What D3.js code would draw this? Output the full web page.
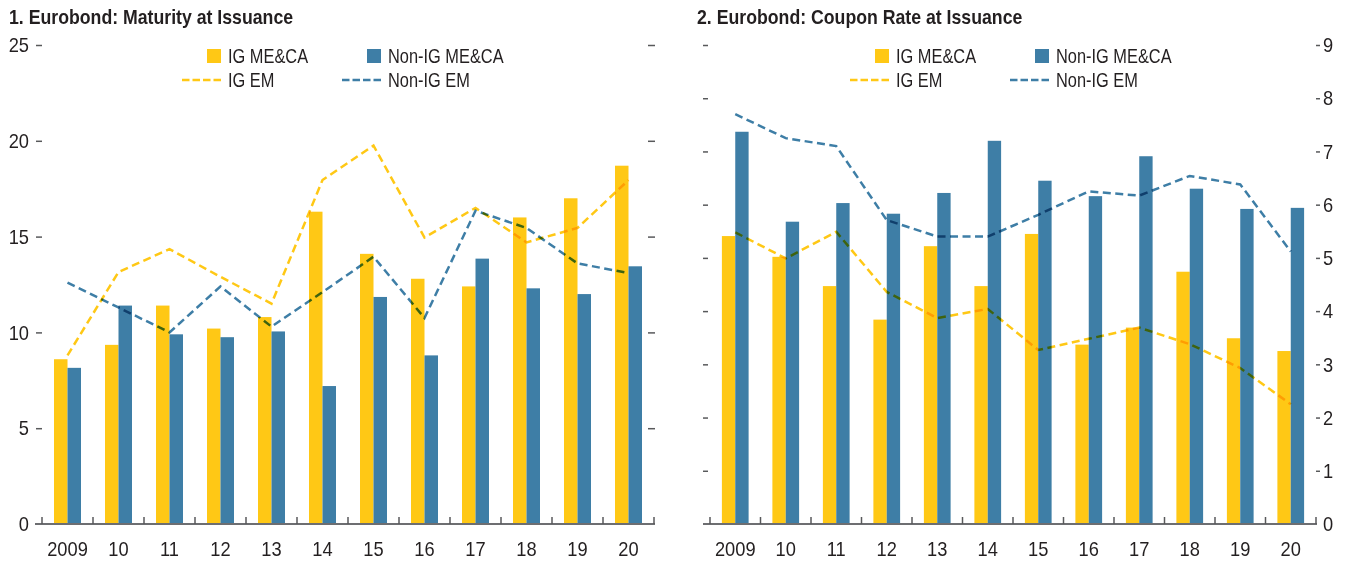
<!DOCTYPE html>
<html>
<head>
<meta charset="utf-8">
<script src="https://cdn.jsdelivr.net/npm/d3@7"></script>
<style>
  body { margin: 0; background: #fff; }
  svg { display: block; font-family: 'Liberation Sans', Arial, sans-serif; }
</style>
</head>
<body>
<div id="chart"></div>
<script>
const years = ['2009', '10', '11', '12', '13', '14', '15', '16', '17', '18', '19', '20'];
const seriesNames = ['IG ME&CA', 'Non-IG ME&CA', 'IG EM', 'Non-IG EM'];

// Panel 1: maturity (years)
const maturityIgMeca = [8.6, 9.35, 11.4, 10.2, 10.8, 16.3, 14.1, 12.8, 12.4, 16.0, 17.0, 18.7];
const maturityNonIgMeca = [8.15, 11.4, 9.9, 9.75, 10.05, 7.2, 11.85, 8.8, 13.85, 12.3, 12.0, 13.45];
const maturityIgEm = [8.8, 13.15, 14.35, 12.9, 11.5, 17.95, 19.75, 14.95, 16.5, 14.7, 15.45, 17.95];
const maturityNonIgEm = [12.6, 11.3, 10.0, 12.4, 10.3, 12.1, 13.95, 10.75, 16.35, 15.45, 13.6, 13.1];
const maturityTicks = [0, 5, 10, 15, 20, 25];

// Panel 2: coupon rate (percent)
const couponIgMeca = [5.41, 5.02, 4.47, 3.84, 5.22, 4.47, 5.45, 3.37, 3.69, 4.74, 3.49, 3.25];
const couponNonIgMeca = [7.37, 5.68, 6.03, 5.83, 6.22, 7.2, 6.45, 6.16, 6.91, 6.30, 5.92, 5.94];
const couponIgEm = [5.48, 4.99, 5.49, 4.36, 3.87, 4.04, 3.27, 3.48, 3.69, 3.38, 2.93, 2.25];
const couponNonIgEm = [7.70, 7.25, 7.10, 5.71, 5.40, 5.40, 5.81, 6.25, 6.17, 6.54, 6.38, 5.12];
const couponTicks = [0, 1, 2, 3, 4, 5, 6, 7, 8, 9];

const YELLOW = '#ffc815';
const BLUE = '#3e7ea6';
const TEXT = '#231f20';
const TICK = '#58595b';

// No condensed font in the sandbox, so squeeze text horizontally instead
const SQ_TITLE = 0.885, SQ_LEGEND = 0.78, SQ_TICK = 0.87;

const svg = d3.select('#chart')
  .append('svg')
  .attr('width', 1348)
  .attr('height', 562);

const plotTop = 45, plotBottom = 524;

function squeeze(sel, sx) {
  sel.each(function () {
    const t = d3.select(this);
    const x = +t.attr('x') || 0, y = +t.attr('y') || 0;
    t.attr('x', 0).attr('y', 0)
      .attr('transform', `translate(${x},${y}) scale(${sx},1)`);
  });
}

function drawPanel(p) {
  const g = svg.append('g');

  const x = d3.scaleBand()
    .domain(years)
    .range([p.x0, p.x1]);

  // two bars side by side inside each band
  const xSub = d3.scaleBand()
    .domain([0, 1])
    .range([0, x.bandwidth()])
    .paddingOuter(0.89);

  const y = d3.scaleLinear()
    .domain([0, d3.max(p.ticks)])
    .range([plotBottom, plotTop]);

  // title
  g.append('text')
    .attr('x', p.titleX)
    .attr('y', 24)
    .attr('font-size', 20)
    .attr('font-weight', 'bold')
    .attr('fill', TEXT)
    .text(p.title)
    .call(squeeze, SQ_TITLE);

  // y axes (ticks only on one side, labels on the other)
  const leftAxis = g.append('g')
    .attr('transform', `translate(${p.leftAxis.x},0)`)
    .call(d3.axisLeft(y)
      .tickValues(p.ticks)
      .tickSize(p.leftAxis.size)
      .tickPadding(p.leftAxis.pad || 3)
      .tickFormat(p.leftAxis.labels ? d3.format('d') : ''));
  const rightAxis = g.append('g')
    .attr('transform', `translate(${p.rightAxis.x},0)`)
    .call(d3.axisRight(y)
      .tickValues(p.ticks)
      .tickSize(p.rightAxis.size)
      .tickPadding(p.rightAxis.pad || 3)
      .tickFormat(p.rightAxis.labels ? d3.format('d') : ''));

  [leftAxis, rightAxis].forEach(a => {
    a.attr('font-family', null);
    a.select('.domain').remove();
    a.selectAll('.tick line').attr('stroke', TICK).attr('stroke-width', 1.5);
    a.selectAll('.tick text')
      .attr('font-size', 21)
      .attr('fill', TEXT)
      .call(squeeze, SQ_TICK);
    // keep the zero tick off the baseline
    a.selectAll('.tick').filter(d => d === 0).select('line').remove();
  });

  // bars
  const barData = years.flatMap((yr, i) => p.bars.map((s, k) => ({ yr, k, v: s[i] })));
  g.append('g')
    .selectAll('rect')
      .data(barData)
    .join('rect')
      .attr('x', d => x(d.yr) + xSub(d.k))
      .attr('y', d => y(d.v))
      .attr('width', xSub.bandwidth())
      .attr('height', d => plotBottom - y(d.v))
      .attr('fill', d => d.k === 0 ? YELLOW : BLUE);

  // baseline and category ticks
  g.append('line')
    .attr('x1', p.baseX0)
    .attr('x2', p.x1 + 1)
    .attr('y1', plotBottom)
    .attr('y2', plotBottom)
    .attr('stroke', '#6d6e71')
    .attr('stroke-width', 2);

  const bounds = years.map(d => x(d)).concat([p.x1]);
  g.append('g')
    .selectAll('line')
      .data(bounds)
    .join('line')
      .attr('x1', d => d)
      .attr('x2', d => d)
      .attr('y1', plotBottom - 7)
      .attr('y2', plotBottom)
      .attr('stroke', TICK)
      .attr('stroke-width', 1.5);

  g.append('g')
    .selectAll('text')
      .data(years)
    .join('text')
      .attr('x', d => x(d) + x.bandwidth() / 2)
      .attr('y', 556)
      .attr('text-anchor', 'middle')
      .attr('font-size', 21)
      .attr('fill', TEXT)
      .text(d => d)
      .call(squeeze, SQ_TICK);

  // dashed lines, multiplied over the bars like the original
  const line = d3.line()
    .x((d, i) => x(years[i]) + x.bandwidth() / 2)
    .y(d => y(d));

  g.append('g')
    .selectAll('path')
      .data(p.lines)
    .join('path')
      .attr('d', line)
      .attr('fill', 'none')
      .attr('stroke', (d, i) => i === 0 ? YELLOW : BLUE)
      .attr('stroke-width', 2.5)
      .attr('stroke-dasharray', '8,4.5')
      .style('mix-blend-mode', 'multiply');

  // legend
  const lg = g.append('g').attr('transform', `translate(${p.legendX},0)`);
  [0, 1].forEach(k => {
    const col = lg.append('g').attr('transform', `translate(${k * 160},0)`);
    const color = k === 0 ? YELLOW : BLUE;
    col.append('rect')
      .attr('x', 0).attr('y', 49)
      .attr('width', 14).attr('height', 14)
      .attr('fill', color);
    col.append('text')
      .attr('x', 21).attr('y', 63)
      .attr('font-size', 21)
      .attr('fill', TEXT)
      .text(seriesNames[k])
      .call(squeeze, SQ_LEGEND);
    col.append('line')
      .attr('x1', -25).attr('x2', 14)
      .attr('y1', 80).attr('y2', 80)
      .attr('stroke', color)
      .attr('stroke-width', 2.5)
      .attr('stroke-dasharray', '7.5,3');
    col.append('text')
      .attr('x', 21).attr('y', 87)
      .attr('font-size', 21)
      .attr('fill', TEXT)
      .text(seriesNames[k + 2])
      .call(squeeze, SQ_LEGEND);
  });
}

drawPanel({
  title: '1. Eurobond: Maturity at Issuance',
  titleX: 9,
  x0: 42, x1: 654, baseX0: 35,
  ticks: maturityTicks,
  leftAxis: { x: 42, size: 6, pad: 7, labels: true },
  rightAxis: { x: 648, size: 7, labels: false },
  bars: [maturityIgMeca, maturityNonIgMeca],
  lines: [maturityIgEm, maturityNonIgEm],
  legendX: 207,
});

drawPanel({
  title: '2. Eurobond: Coupon Rate at Issuance',
  titleX: 697,
  x0: 710, x1: 1316, baseX0: 703,
  ticks: couponTicks,
  leftAxis: { x: 708, size: 5, labels: false },
  rightAxis: { x: 1316, size: 4, pad: 3, labels: true },
  bars: [couponIgMeca, couponNonIgMeca],
  lines: [couponIgEm, couponNonIgEm],
  legendX: 875,
});
</script>
</body>
</html>
